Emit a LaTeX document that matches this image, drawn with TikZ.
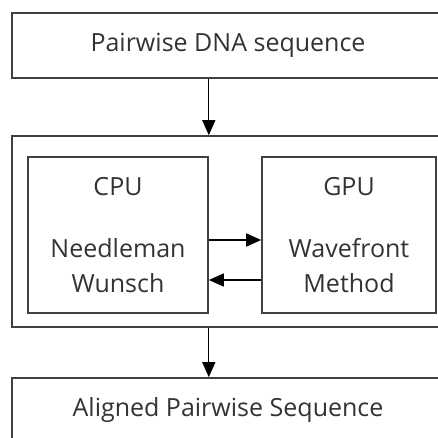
\documentclass[tikz,border=0pt]{standalone}
\usepackage{fontspec}
\setmainfont{Open Sans}
\usetikzlibrary{arrows.meta}

\begin{document}
\begin{tikzpicture}[x=1pt, y=1pt,
    bnode/.style={draw=black!75, line width=1.6pt, rectangle, inner sep=0pt, text=black!80, font=\fontsize{25}{35}\selectfont},
    wnode/.style={bnode, minimum width=432pt, minimum height=65pt},
    pnode/.style={bnode, minimum height=156pt, align=center},
    arr/.style={-{Triangle[length=15pt,width=13pt]}, line width=1.3pt, black}]
    \useasboundingbox (0,0) rectangle (438,-438);

    \node[wnode] (seq) at (228,-45.5) {Pairwise DNA sequence};
    \node[bnode, minimum width=432pt, minimum height=191pt] (host) at (228,-231.5) {};
    \node[pnode, minimum width=180pt] (cpu) at (118,-235) {CPU\\[27pt]Needleman\\Wunsch};
    \node[pnode, minimum width=174pt] (gpu) at (349,-235) {GPU\\[27pt]Wavefront\\Method};
    \node[wnode] (aln) at (228,-410.5) {Aligned Pairwise Sequence};

    \draw[arr] (seq.south -| cpu.east) -- (host.north -| cpu.east);
    \draw[arr] (host.south -| cpu.east) -- (aln.north -| cpu.east);
    \draw[arr] ([yshift=-5pt]cpu.east) -- ([yshift=-5pt]gpu.west);
    \draw[arr] ([yshift=-45pt]gpu.west) -- ([yshift=-45pt]cpu.east);
\end{tikzpicture}
\end{document}
